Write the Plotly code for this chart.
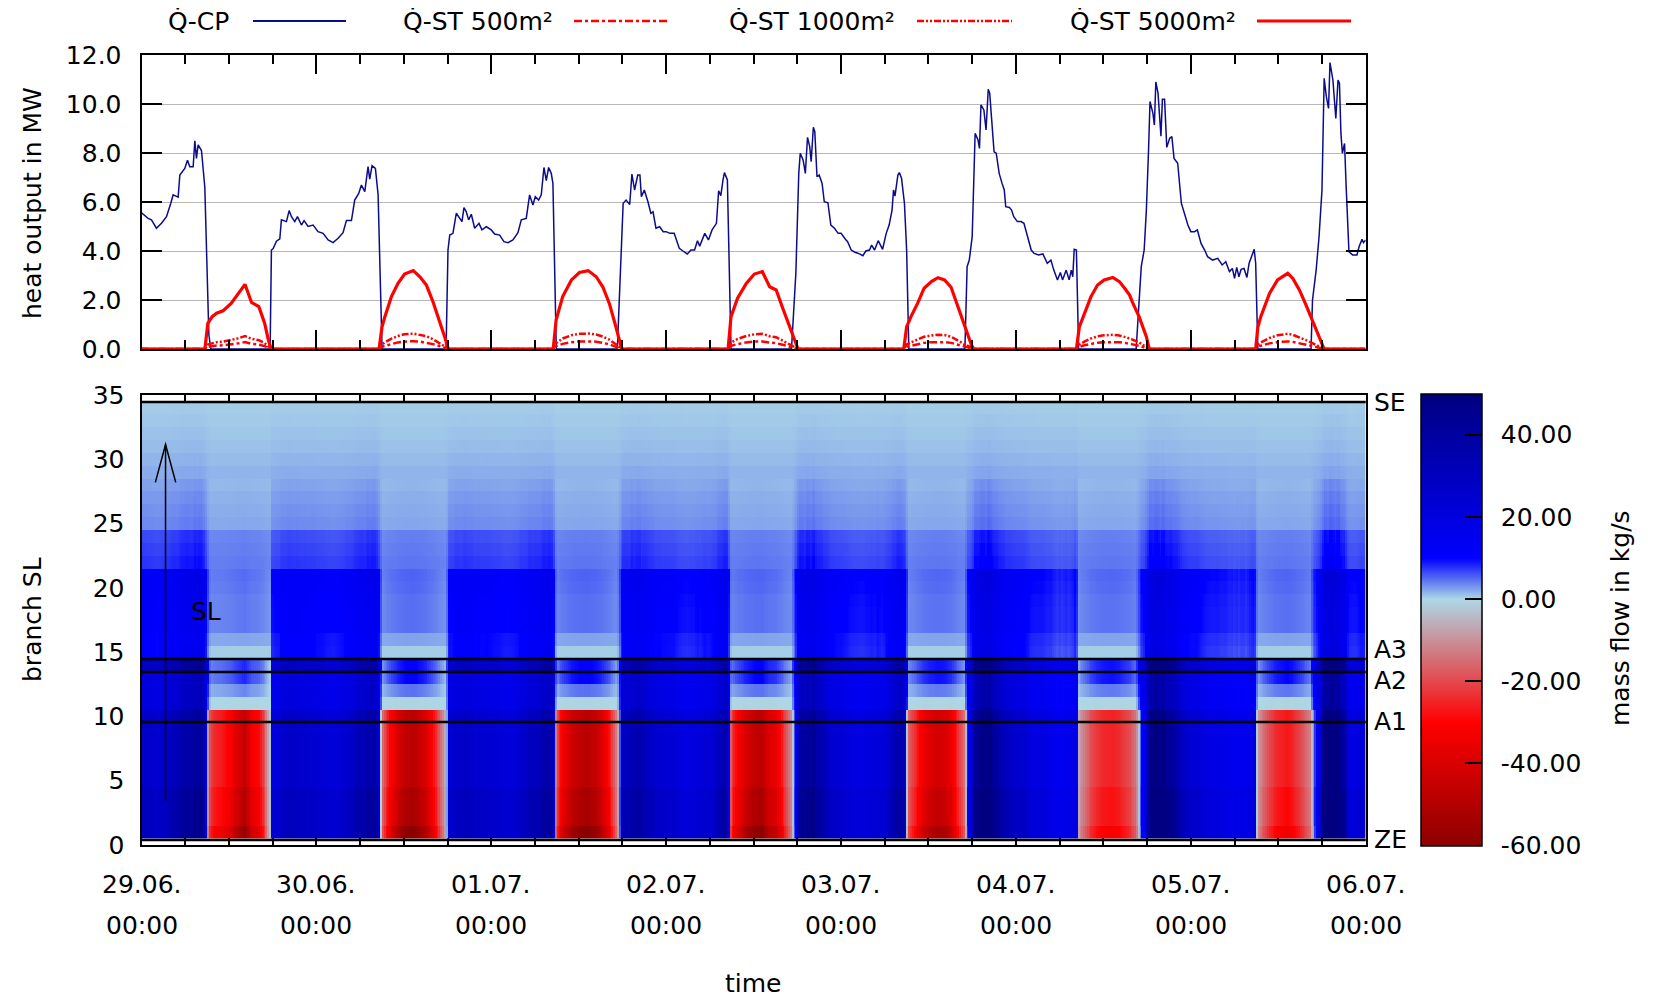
import numpy as np
import plotly.graph_objects as go

# ------------------------------------------------------------------ data
# central plant heat output (MW), time in hours since 29.06. 00:00
cp_hours = [0, 0.9, 1.37, 2.05, 2.74, 3.43, 4.02, 4.34, 5.03, 5.26, 5.94, 6.31, 6.63, 7.09, 7.32, 7.54, 7.77, 8.23, 8.69, 8.92, 9.24, 9.51,
            17.65, 17.83, 18.07, 18.52, 18.98, 19.20, 19.89, 20.26, 20.58, 21.03, 21.40, 21.95, 22.31, 22.86, 23.55, 24.23, 24.92, 25.61, 26.29,
            26.98, 27.66, 28.12, 28.81, 29.26, 29.81, 30.18, 30.64, 31.09, 31.32, 31.64, 32.10, 32.47, 32.69, 33.01,
            41.80, 42.06, 42.30, 42.74, 43.20, 43.66, 43.98, 44.25, 44.57, 44.89, 45.26, 45.72, 46.31, 46.72, 47.32, 48.00, 48.46, 49.15, 49.74,
            50.29, 50.97, 51.66, 52.12, 52.80, 53.26, 53.72, 54.04, 54.50, 54.86, 55.23, 55.55, 55.87, 56.23, 56.46, 56.69, 56.92,
            65.30, 65.60, 66.10, 66.50, 67.00, 67.30, 67.67, 68.10, 68.40, 68.60, 69.00, 69.50, 69.90, 70.20, 70.60, 71.10, 71.60, 72.00, 72.50,
            73.10, 73.40, 73.80, 74.30, 74.90, 75.40, 75.90, 76.30, 76.60, 77.30, 77.80, 78.30, 78.90, 79.20, 79.50, 79.80, 80.00, 80.40, 80.60, 80.90,
            89.20, 89.50, 89.80, 90.20, 90.40, 90.80, 91.10, 91.40, 91.70, 91.90, 92.20, 92.40, 92.70, 93.00, 93.40, 93.70, 94.20, 94.60, 95.10,
            95.60, 96.00, 96.60, 96.90, 97.40, 97.90, 98.40, 99.00, 99.40, 99.90, 100.20, 100.60, 101.10, 101.70, 102.20, 102.60, 103.00, 103.20,
            103.40, 103.80, 104.00, 104.30, 104.70, 105.00, 105.30,
            113.00, 113.30, 113.60, 114.00, 114.20, 114.40, 114.80, 115.00, 115.20, 115.60, 115.90, 116.20, 116.40, 116.70, 117.00, 117.30, 117.70,
            118.10, 118.40, 118.60, 119.10, 119.40, 119.70, 120.20, 120.70, 121.10, 121.50, 122.10, 122.50, 123.10, 123.70, 124.30, 124.80, 125.20,
            125.70, 126.10, 126.40, 126.90, 127.30, 127.60, 127.80, 128.00, 128.30, 128.60,
            136.50, 137.20, 137.60, 137.90, 138.20, 138.40, 138.80, 139.00, 139.20, 139.50, 139.90, 140.10, 140.40, 140.70, 141.10, 141.40, 141.70,
            142.20, 142.70, 143.10, 143.60, 144.00, 144.50, 144.90, 145.40, 145.90, 146.30, 147.00, 147.70, 148.30, 148.80, 149.30, 149.70, 150.00,
            150.30, 150.60, 150.90, 151.30, 151.70, 152.00, 152.40, 152.70, 152.90, 153.20,
            160.50, 160.70, 161.20, 161.60, 162.00, 162.30, 162.60, 162.90, 163.10, 163.50, 163.90, 164.20, 164.40, 164.60, 164.80, 165.10, 165.30,
            165.50, 165.70, 166.20, 166.80, 167.10, 167.50, 167.70, 168.00]
cp_mw = [5.56, 5.33, 5.27, 4.93, 5.13, 5.40, 5.95, 6.29, 6.20, 7.10, 7.37, 7.70, 7.44, 7.44, 8.50, 7.78, 8.33, 8.10, 6.60, 4.00, 0.60, 0,
         0, 4.04, 4.10, 4.40, 4.50, 5.27, 5.20, 5.65, 5.40, 5.20, 5.40, 5.06, 5.24, 5.00, 5.06, 4.79, 4.72, 4.45, 4.34,
         4.52, 4.75, 5.24, 5.24, 6.08, 6.35, 6.69, 6.42, 7.44, 6.93, 7.48, 7.37, 6.29, 4.00, 0,
         0, 4.04, 4.65, 4.72, 5.54, 5.33, 5.20, 5.77, 5.60, 5.27, 5.50, 4.93, 5.13, 4.86, 4.99, 4.86, 4.69, 4.65, 4.38,
         4.34, 4.45, 4.75, 5.27, 5.33, 6.29, 5.88, 6.22, 6.08, 6.29, 7.41, 6.87, 7.41, 7.17, 6.76, 4.00, 0,
         0, 2.00, 5.95, 6.08, 5.90, 7.14, 6.49, 7.10, 7.10, 6.22, 6.49, 6.01, 5.54, 5.60, 4.93, 4.99, 4.79, 4.79, 4.72,
         4.72, 4.45, 4.11, 4.00, 3.88, 4.04, 4.04, 4.42, 4.20, 4.72, 4.45, 4.86, 5.13, 6.46, 6.26, 6.90, 7.20, 6.90, 4.04, 0,
         0, 1.86, 3.09, 7.17, 7.99, 7.71, 7.17, 8.64, 8.26, 7.65, 9.05, 8.87, 7.03, 7.10, 6.76, 6.01, 5.97, 5.06, 4.93,
         4.72, 4.72, 4.48, 4.38, 4.04, 3.95, 3.90, 3.81, 4.00, 4.04, 4.24, 4.04, 4.42, 4.07, 4.72, 5.06, 5.67, 6.49,
         6.24, 7.10, 7.20, 6.97, 5.95, 4.04, 0,
         0, 3.36, 3.63, 4.59, 6.49, 8.80, 8.53, 8.19, 9.96, 9.76, 8.94, 10.60, 10.44, 9.35, 8.05, 7.99, 7.17,
         6.76, 6.49, 5.81, 5.78, 5.67, 5.40, 5.20, 5.20, 5.13, 4.72, 4.04, 3.90, 3.84, 3.88, 3.50, 3.63, 3.22,
         2.82, 3.12, 2.82, 3.22, 2.82, 3.22, 2.95, 4.07, 4.04, 0,
         0, 3.36, 4.04, 5.67, 8.12, 10.10, 9.62, 9.14, 10.90, 10.44, 8.69, 10.19, 10.19, 8.23, 8.60, 8.67, 7.78,
         7.58, 5.95, 5.54, 5.06, 4.79, 4.79, 4.86, 4.31, 4.04, 3.77, 3.63, 3.70, 3.43, 3.56, 3.16, 3.29, 2.88,
         3.33, 2.95, 3.25, 3.29, 2.92, 3.50, 3.84, 4.07, 3.50, 0,
         0, 2.00, 3.22, 4.59, 6.49, 11.05, 10.30, 9.82, 11.69, 10.98, 9.41, 10.98, 10.84, 8.80, 7.99, 8.39, 6.76,
         5.40, 3.97, 3.84, 3.84, 4.18, 4.48, 4.34, 4.45]

# solar thermal heat output (MW) for three collector areas, same time points
st_hours = [0,
            8.7, 9.1, 9.7, 10.3, 11.2, 12.3, 13.3, 14.2, 15.1, 16.1, 16.9, 17.4, 17.8,
            32.6, 33.0, 33.4, 34.3, 35.2, 36.1, 37.3, 38.2, 39.1, 40.0, 40.9, 41.6, 42.1,
            56.5, 56.9, 57.8, 59.0, 60.1, 61.3, 62.4, 63.3, 64.2, 65.1, 65.9,
            80.5, 80.9, 81.8, 83.0, 84.1, 85.2, 86.2, 87.1, 88.0, 88.9, 89.8, 90.1,
            104.6, 105.0, 105.6, 106.5, 107.4, 108.4, 109.3, 110.2, 111.1, 112.0, 113.0, 113.9, 114.2,
            128.3, 128.7, 129.4, 130.3, 131.2, 132.1, 133.3, 134.2, 135.1, 135.6, 136.0, 136.9, 137.9, 138.3,
            152.9, 153.2, 153.6, 154.8, 155.9, 157.3, 158.0, 158.9, 159.8, 160.7, 161.6, 162.3,
            168]
st_5000 = [0,
           0, 1.05, 1.32, 1.46, 1.56, 1.86, 2.27, 2.64, 1.90, 1.73, 1.05, 0.37, 0,
           0, 0.90, 1.32, 2.14, 2.68, 3.06, 3.20, 2.95, 2.61, 1.93, 1.18, 0.50, 0,
           0, 1.18, 2.14, 2.82, 3.12, 3.20, 2.95, 2.54, 1.86, 0.91, 0,
           0, 1.32, 2.07, 2.68, 3.06, 3.16, 2.54, 2.41, 1.66, 0.91, 0.23, 0,
           0, 0.90, 1.32, 1.86, 2.48, 2.75, 2.91, 2.82, 2.52, 1.73, 0.91, 0.16, 0,
           0, 0.90, 1.46, 2.14, 2.61, 2.82, 2.92, 2.75, 2.41, 2.20, 1.90, 1.32, 0.50, 0,
           0, 0.90, 1.32, 2.27, 2.82, 3.09, 2.88, 2.41, 1.80, 1.18, 0.50, 0,
           0]
st_1000 = [0,
           0, 0.18, 0.24, 0.28, 0.30, 0.36, 0.44, 0.53, 0.42, 0.36, 0.24, 0.10, 0,
           0, 0.18, 0.27, 0.42, 0.53, 0.60, 0.63, 0.59, 0.52, 0.40, 0.25, 0.11, 0,
           0, 0.24, 0.43, 0.56, 0.62, 0.63, 0.59, 0.51, 0.38, 0.19, 0,
           0, 0.26, 0.41, 0.53, 0.60, 0.62, 0.52, 0.48, 0.34, 0.19, 0.05, 0,
           0, 0.18, 0.27, 0.38, 0.50, 0.55, 0.58, 0.57, 0.50, 0.35, 0.19, 0.04, 0,
           0, 0.18, 0.30, 0.43, 0.52, 0.56, 0.58, 0.55, 0.48, 0.44, 0.38, 0.27, 0.10, 0,
           0, 0.18, 0.27, 0.45, 0.56, 0.62, 0.58, 0.48, 0.36, 0.24, 0.10, 0,
           0]
st_500 = [0,
          0, 0.09, 0.12, 0.14, 0.15, 0.18, 0.23, 0.28, 0.21, 0.18, 0.12, 0.05, 0,
          0, 0.09, 0.13, 0.21, 0.27, 0.30, 0.32, 0.30, 0.26, 0.20, 0.12, 0.05, 0,
          0, 0.12, 0.21, 0.28, 0.31, 0.32, 0.30, 0.25, 0.19, 0.09, 0,
          0, 0.13, 0.20, 0.27, 0.30, 0.31, 0.26, 0.24, 0.17, 0.09, 0.02, 0,
          0, 0.09, 0.13, 0.19, 0.25, 0.28, 0.29, 0.28, 0.25, 0.17, 0.09, 0.02, 0,
          0, 0.09, 0.15, 0.21, 0.26, 0.28, 0.29, 0.28, 0.24, 0.22, 0.19, 0.13, 0.05, 0,
          0, 0.09, 0.13, 0.23, 0.28, 0.31, 0.29, 0.24, 0.18, 0.12, 0.05, 0,
          0]

# branch SL segments (1 = ZE ... 34 = SE): base flow (kg/s) and response to CP / ST output (kg/s per MW)
branch_rows = list(range(1, 35))
row_base = [0, 0, 0, 0, 0, 0, 0, 0, 0, 0,
            0, 0, 0, 0, 0.5, 2.0, 3.0, 3.0, 3.0, 3.2,
            3.4, 3.8, 3.6, 3.4, 2.0, 1.8, 1.6, 1.3, 1.6, 1.3,
            1.0, 0.8, 0.6, 0.5]
row_gain_cp = [5.6, 5.6, 5.6, 5.6, 5.0, 5.0, 5.0, 5.0, 5.0, 5.0,
               3.8, 3.8, 3.8, 5.5, 1.9, 1.6, 1.6, 1.6, 1.65, 1.7,
               1.75, 0.7, 0.65, 0.6, 0.3, 0.28, 0.25, 0.22, 0.08, 0.06,
               0.05, 0.04, 0.03, 0.02]
row_gain_st = [-19, -16.5, -16.5, -16.5, -15, -15, -15, -15, -15, -15,
               -0.2, 1.5, 3.2, 3.2, 0.0, 0.15, 0.6, 0.6, 0.6, 0.65,
               0.65, 0.25, 0.25, 0.25, 0.1, 0.1, 0.1, 0.1, 0.0, 0.0,
               0.0, 0.0, 0.0, 0.0]
day_reverse_scale = [1.15, 1.0, 1.0, 1.0, 0.95, 0.58, 0.58]

branch_names = ["ZE", "A1", "A2", "A3", "SE"]
branch_marks = [0.39, 9.57, 13.46, 14.47, 34.46]

tick_dates = ["29.06.", "30.06.", "01.07.", "02.07.", "03.07.", "04.07.", "05.07.", "06.07."]
tick_times = ["00:00"] * 8
tick_hours = [0, 24, 48, 72, 96, 120, 144, 168]
cbar_ticks = [-60, -40, -20, 0, 20, 40]
cbar_text = ["-60.00", "-40.00", "-20.00", "0.00", "20.00", "40.00"]

# ------------------------------------------------------------------ heatmap grid
grid = np.arange(0.125, 168, 0.25)
cp_g = np.interp(grid, cp_hours, cp_mw)
st_g = np.interp(grid, st_hours, st_5000)
day_idx = np.minimum((grid // 24).astype(int), 6)
gcp = np.array(row_gain_cp)[:, None]
gst = np.array(row_gain_st)[:, None]
st_term = gst * st_g[None, :]
neg = np.array(row_gain_st) < -1
st_term[neg] *= np.array(day_reverse_scale)[day_idx][None, :]
z = np.array(row_base)[:, None] + gcp * cp_g[None, :] + st_term

# ------------------------------------------------------------------ figure
W, H = 1655, 997
OFF = 8  # page (body) margin of the html page


def fx(px):
    return (px - OFF) / W


def fy(py):
    return 1 - (py - OFF) / H


FONT = "DejaVu Sans, Verdana, sans-serif"
FS = 25
TXT = dict(family=FONT, size=FS, color="black")
x_dom = [fx(141.5), fx(1365.7)]

fig = go.Figure()

fig.add_trace(go.Scatter(x=cp_hours, y=cp_mw, mode="lines", name="Q\u0307-CP",
                         line=dict(color="#0c0c8a", width=1.5), xaxis="x", yaxis="y"))
fig.add_trace(go.Scatter(x=st_hours, y=st_500, mode="lines", name="Q\u0307-ST 500m²",
                         line=dict(color="#ff0000", width=2.5, dash="8px,3px,3px,3px"), xaxis="x", yaxis="y"))
fig.add_trace(go.Scatter(x=st_hours, y=st_1000, mode="lines", name="Q\u0307-ST 1000m²",
                         line=dict(color="#ff0000", width=2.5, dash="7px,2px,2px,2px,2px,2px"), xaxis="x", yaxis="y"))
fig.add_trace(go.Scatter(x=st_hours, y=st_5000, mode="lines", name="Q\u0307-ST 5000m²",
                         line=dict(color="#ff0000", width=3.2), xaxis="x", yaxis="y"))

colorscale = [[0.0, "rgb(140,0,0)"], [30 / 110, "rgb(255,0,0)"], [60 / 110, "rgb(173,216,230)"],
              [70 / 110, "rgb(0,0,255)"], [1.0, "rgb(0,0,128)"]]
fig.add_trace(go.Heatmap(
    x=grid, y=branch_rows, z=z, zmin=-60, zmax=50, colorscale=colorscale,
    xaxis="x2", yaxis="y2", showscale=True,
    colorbar=dict(x=fx(1421), xanchor="left", xpad=0, ypad=0,
                  y=fy(845.5), yanchor="bottom", len=(845.5 - 394) / H, lenmode="fraction",
                  thickness=61, thicknessmode="pixels",
                  outlinecolor="black", outlinewidth=1.5,
                  tickmode="array", tickvals=cbar_ticks, ticktext=["\u2002" + t for t in cbar_text],
                  ticks="inside", ticklen=17, tickwidth=1.5, tickcolor="black",
                  tickfont=TXT),
    hoverinfo="skip"))

axis_common = dict(showline=True, linecolor="black", linewidth=2, mirror="allticks",
                   automargin=False, tickfont=TXT)

fig.update_layout(
    width=W, height=H, autosize=False,
    margin=dict(l=0, r=0, t=0, b=0, pad=0),
    paper_bgcolor="white", plot_bgcolor="white",
    showlegend=False,
    font=TXT,
    xaxis=dict(domain=x_dom, anchor="y", range=[0, 168], showticklabels=False,
               tickmode="linear", tick0=0, dtick=24, ticks="inside", ticklen=19, tickwidth=1.5, tickcolor="black",
               minor=dict(tickmode="linear", tick0=0, dtick=6, ticks="inside", ticklen=9, tickwidth=1.5,
                          tickcolor="black", showgrid=False),
               showgrid=False, zeroline=False, **axis_common),
    yaxis=dict(domain=[fy(349), fy(55)], anchor="x", range=[0, 12], tickmode="linear", tick0=0, dtick=2,
               tickformat=".1f", ticks="inside", ticklen=20, tickwidth=1.5, tickcolor="black",
               showgrid=True, gridcolor="#b8b8b8", gridwidth=1, zeroline=False,
               ticklabelstandoff=13, **axis_common),
    xaxis2=dict(domain=x_dom, anchor="y2", range=[0, 168], showticklabels=False,
                tickmode="linear", tick0=0, dtick=24, ticks="inside", ticklen=9, tickwidth=1.5, tickcolor="black",
                minor=dict(tickmode="linear", tick0=0, dtick=6, ticks="inside", ticklen=9, tickwidth=1.5,
                           tickcolor="black", showgrid=False),
                showgrid=False, zeroline=False, layer="below traces", **axis_common),
    yaxis2=dict(domain=[fy(845), fy(395)], anchor="x2", range=[0, 35], tickmode="linear", tick0=0, dtick=5,
                ticks="", showgrid=False, zeroline=False, ticklabelstandoff=10, **axis_common),
)

shapes = []
annotations = []


def label(text, x, y, xref="paper", yref="paper", xanchor="center", yanchor="middle", angle=0):
    return dict(text=text, xref=xref, yref=yref, x=x, y=y, xanchor=xanchor, yanchor=yanchor,
                textangle=angle, showarrow=False, borderpad=0, font=TXT)


# branch marker lines and labels (A3 above its line, A2 below, so the two do not collide)
label_pos = [(0.39, "middle"), (9.57, "middle"), (13.97, "top"), (13.97, "bottom"), (34.4, "middle")]
for name, yv, (ly, anc) in zip(branch_names, branch_marks, label_pos):
    shapes.append(dict(type="line", xref="x2 domain", yref="y2", x0=0, x1=1, y0=yv, y1=yv,
                       line=dict(color="black", width=2.5), layer="above"))
    annotations.append(label(name, fx(1373), ly, yref="y2", xanchor="left", yanchor=anc))

# SL flow-direction arrow
shapes.append(dict(type="path", xref="x2", yref="y2", path="M 3.3,3.4 L 3.3,31.15",
                   line=dict(color="black", width=1.5), layer="above"))
shapes.append(dict(type="path", xref="x2", yref="y2", path="M 1.9,28.2 L 3.3,31.15 L 4.7,28.2",
                   line=dict(color="black", width=1.5), layer="above"))
annotations.append(label("SL", 8.8, 18.15, xref="x2", yref="y2"))

# date / time tick labels
for h, d, t in zip(tick_hours, tick_dates, tick_times):
    annotations.append(label(d, h, fy(884.5), xref="x2"))
    annotations.append(label(t, h, fy(925), xref="x2"))

# axis titles
annotations.append(label("time", fx(753), fy(983)))
annotations.append(label("heat output in MW", fx(32), fy(203), angle=-90))
annotations.append(label("branch SL", fx(32), fy(620), angle=-90))
annotations.append(label("mass flow in kg/s", fx(1620), fy(618), angle=-90))

# gnuplot-style legend (text followed by line sample)
legend_items = [("Q\u0307-CP", 230, 253, 346, dict(color="#0c0c8a", width=2)),
                ("Q\u0307-ST 500m²", 554, 574, 668, dict(color="#ff0000", width=2.5, dash="8px,3px,3px,3px")),
                ("Q\u0307-ST 1000m²", 896, 917, 1012, dict(color="#ff0000", width=2.5, dash="7px,2px,2px,2px,2px,2px")),
                ("Q\u0307-ST 5000m²", 1237, 1257, 1351, dict(color="#ff0000", width=3.2))]
for text, tx, l0, l1, ln in legend_items:
    annotations.append(label(text, fx(tx), fy(21), xanchor="right"))
    shapes.append(dict(type="line", xref="paper", yref="paper", x0=fx(l0), x1=fx(l1), y0=fy(21), y1=fy(21),
                       line=ln))

fig.update_layout(shapes=shapes, annotations=annotations)
fig.write_html("out.html")
